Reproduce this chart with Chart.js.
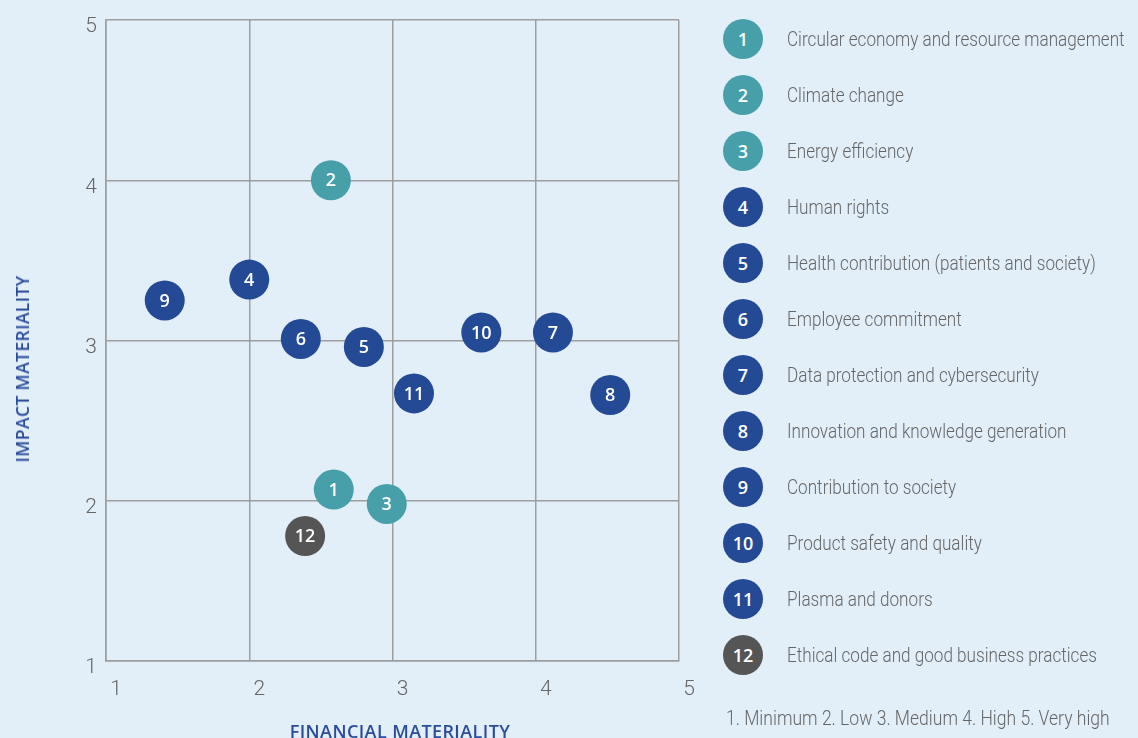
<!DOCTYPE html>
<html>
<head>
<meta charset="utf-8">
<script src="https://cdn.jsdelivr.net/npm/chart.js@4.4.1/dist/chart.umd.min.js"></script>
<style>
  html, body { margin: 0; padding: 0; background: #E2EEF8; }
  body { width: 1138px; height: 738px; position: relative; overflow: hidden; }
  #chart { position: absolute; left: 0; top: 0; }
  .narrow { font-family: Roboto, "Liberation Sans", sans-serif; font-weight: 300; color: #666; font-size: 21px; white-space: nowrap; transform-origin: 0 50%; transform: scaleX(0.815); }
  .axis-title { position: absolute; font-family: "Open Sans", "Noto Sans", sans-serif; font-weight: 600; color: #2B4C9B; white-space: nowrap; letter-spacing: 0.4px; }
  #ytitle { font-size: 17.5px; }
  #xtitle { font-size: 18px; }
  #legend { position: absolute; left: 0; top: 0; }
  .leg-item { position: absolute; height: 40px; display: flex; align-items: center; }
  .leg-dot { width: 40px; height: 40px; border-radius: 50%; color: #fff; display: flex; align-items: center; justify-content: center; font-family: "Open Sans", "Noto Sans", sans-serif; font-weight: 600; font-size: 18px; }
  .leg-text { position: absolute; left: 64px; }
  #footnote { position: absolute; left: 726px; top: 706px; transform: scaleX(0.835); }
</style>
</head>
<body>
<canvas id="chart" width="1138" height="738"></canvas>
<div class="axis-title" id="ytitle"></div>
<div class="axis-title" id="xtitle"></div>
<div id="legend"></div>
<div id="footnote" class="narrow"></div>
<script>
// ---- Data ----
const topicIds = ['1','2','3','4','5','6','7','8','9','10','11','12'];
const topics = [
  'Circular economy and resource management',
  'Climate change',
  'Energy efficiency',
  'Human rights',
  'Health contribution (patients and society)',
  'Employee commitment',
  'Data protection and cybersecurity',
  'Innovation and knowledge generation',
  'Contribution to society',
  'Product safety and quality',
  'Plasma and donors',
  'Ethical code and good business practices'
];
const financialMateriality = [2.59, 2.57, 2.96, 2.00, 2.80, 2.36, 4.12, 4.52, 1.41, 3.62, 3.15, 2.39];
const impactMateriality   = [2.07, 4.00, 1.98, 3.38, 2.96, 3.01, 3.05, 2.66, 3.25, 3.05, 2.67, 1.78];
const topicGroups = ['environment','environment','environment','social','social','social','social','social','social','social','social','governance'];
const scaleTicks = [1, 2, 3, 4, 5];
const footnoteText = '1. Minimum 2. Low 3. Medium 4. High 5. Very high';
const xAxisTitle = 'FINANCIAL MATERIALITY';
const yAxisTitle = 'IMPACT MATERIALITY';

// ---- Styles ----
const groupColors = { environment: '#479FAA', social: '#254A95', governance: '#555555' };
const pointColors = topicGroups.map(g => groupColors[g]);
const tickFont = { family: 'Roboto, "Liberation Sans", sans-serif', size: 21, weight: 300 };
const gridColor = '#9E9E9E';

const pointLabelPlugin = {
  id: 'pointLabels',
  afterDatasetsDraw(chart) {
    const ctx = chart.ctx;
    const meta = chart.getDatasetMeta(0);
    ctx.save();
    ctx.fillStyle = '#ffffff';
    ctx.font = '600 18px "Open Sans", "Noto Sans", sans-serif';
    ctx.textAlign = 'center';
    ctx.textBaseline = 'middle';
    meta.data.forEach((el, i) => {
      ctx.fillText(topicIds[i], el.x, el.y + 1);
    });
    ctx.restore();
  }
};

new Chart(document.getElementById('chart'), {
  type: 'scatter',
  data: {
    datasets: [{
      label: 'Topics',
      data: financialMateriality.map((x, i) => ({ x: x, y: impactMateriality[i] })),
      backgroundColor: pointColors,
      borderWidth: 0,
      pointRadius: 20,
      pointHoverRadius: 20
    }]
  },
  options: {
    responsive: false,
    devicePixelRatio: 1,
    animation: false,
    layout: { padding: { top: 16.5, right: 459, left: 0, bottom: 0 } },
    plugins: { legend: { display: false }, tooltip: { enabled: false } },
    scales: {
      x: {
        type: 'linear', min: 1, max: 5,
        afterBuildTicks: s => { s.ticks = scaleTicks.map(v => ({ value: v })); },
        afterFit: s => { s.height = 77; s.paddingLeft = 0; s.paddingRight = 0; },
        grid: { color: gridColor, lineWidth: 1.5, drawTicks: false },
        border: { color: gridColor, width: 1.5 },
        ticks: { font: tickFont, color: '#666', padding: 16, labelOffset: 10 }
      },
      y: {
        type: 'linear', min: 1, max: 5,
        afterBuildTicks: s => { s.ticks = scaleTicks.map(v => ({ value: v })); },
        afterFit: s => { s.width = 106; s.paddingTop = 0; s.paddingBottom = 0; },
        grid: { color: gridColor, lineWidth: 1.5, drawTicks: false },
        border: { color: gridColor, width: 1.5 },
        ticks: { font: tickFont, color: '#666', padding: 9, labelOffset: 7 }
      }
    }
  },
  plugins: [pointLabelPlugin]
});

// ---- Axis titles (HTML) ----
const yt = document.getElementById('ytitle');
yt.textContent = yAxisTitle;
yt.style.left = '22px'; yt.style.top = '369px';
yt.style.transform = 'translate(-50%, -50%) rotate(-90deg)';
const xt = document.getElementById('xtitle');
xt.textContent = xAxisTitle;
xt.style.left = '400px'; xt.style.top = '731px';
xt.style.transform = 'translate(-50%, -50%)';
document.getElementById('footnote').textContent = footnoteText;

// ---- Legend (HTML) ----
const legend = document.getElementById('legend');
topics.forEach((name, i) => {
  const item = document.createElement('div');
  item.className = 'leg-item';
  item.style.left = '723px';
  item.style.top = (19 + i * 56) + 'px';
  const dot = document.createElement('div');
  dot.className = 'leg-dot';
  dot.style.background = pointColors[i];
  dot.textContent = topicIds[i];
  const txt = document.createElement('div');
  txt.className = 'leg-text narrow';
  txt.textContent = name;
  item.appendChild(dot);
  item.appendChild(txt);
  legend.appendChild(item);
});
</script>
</body>
</html>
